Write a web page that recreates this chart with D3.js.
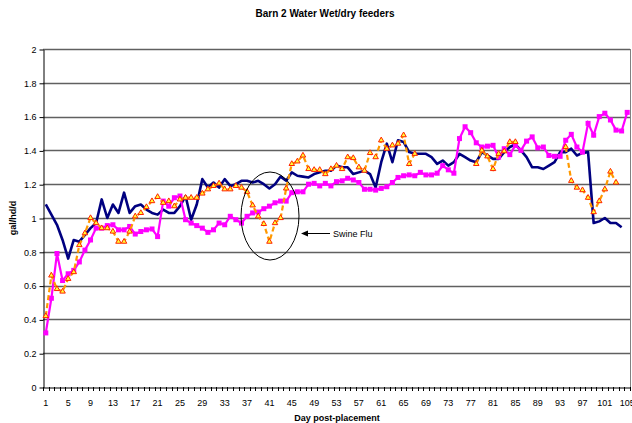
<!DOCTYPE html>
<html>
<head>
<meta charset="utf-8">
<script src="https://cdn.jsdelivr.net/npm/d3@7"></script>
<style>
body { margin: 0; background: white; }
text { font-family: "Liberation Sans", Arial, sans-serif; }
</style>
</head>
<body>
<div id="viz-container"></div>
<script>
let svgWidth = 632;
let svgHeight = 423;

// day post-placement 1..105
let days = d3.range(1, 106);

// navy line
let navySeries = [1.08,1.02,0.96,0.87,0.76,0.87,0.86,0.90,0.94,0.97,
 1.11,1.00,1.08,1.03,1.15,1.03,1.07,1.08,1.05,1.03,
 1.02,1.05,1.03,1.03,1.07,1.13,0.99,1.08,1.23,1.18,
 1.21,1.18,1.23,1.19,1.20,1.22,1.22,1.21,1.22,1.20,
 1.175,1.20,1.245,1.22,1.27,1.25,1.245,1.24,1.26,1.27,
 1.28,1.28,1.31,1.30,1.30,1.26,1.27,1.28,1.26,1.18,
 1.33,1.44,1.33,1.46,1.45,1.39,1.38,1.38,1.38,1.36,
 1.32,1.34,1.31,1.33,1.38,1.36,1.34,1.33,1.39,1.37,
 1.35,1.35,1.39,1.42,1.435,1.40,1.36,1.30,1.30,1.29,
 1.31,1.33,1.39,1.39,1.41,1.37,1.385,1.39,0.97,0.98,
 1.00,0.97,0.97,0.945,null];

// magenta squares
let pinkSeries = [0.32,0.525,0.79,0.63,0.67,0.69,0.74,0.81,0.87,0.94,
 0.94,0.955,0.96,0.93,0.93,0.95,0.905,0.92,0.93,0.935,
 0.89,1.10,1.07,1.12,1.13,0.99,0.97,0.955,0.94,0.915,
 0.93,0.97,0.96,1.01,0.99,0.97,1.01,1.03,1.035,1.055,
 1.07,1.09,1.10,1.10,1.15,1.155,1.155,1.20,1.205,1.19,
 1.205,1.19,1.215,1.22,1.235,1.225,1.21,1.17,1.17,1.165,
 1.175,1.185,1.21,1.24,1.25,1.255,1.25,1.27,1.255,1.255,
 1.265,1.31,1.285,1.265,1.47,1.54,1.505,1.445,1.42,1.425,
 1.43,1.36,1.41,1.375,1.43,1.40,1.455,1.48,1.415,1.42,
 1.37,1.365,1.365,1.46,1.495,1.42,1.39,1.56,1.49,1.60,
 1.62,1.58,1.52,1.515,1.625];

// orange triangles, gaps where no reading
let orangeSeries = [0.42,0.66,0.58,0.565,0.64,0.68,0.84,0.91,1.00,0.97,
 0.94,0.94,0.92,0.86,0.86,0.92,1.01,1.03,1.065,1.10,
 1.125,1.09,1.10,1.07,1.11,1.12,1.12,1.12,1.145,1.17,
 1.19,1.205,1.17,1.17,1.19,1.18,1.155,1.075,1.01,0.965,
 0.86,0.97,1.00,1.175,1.32,1.335,1.37,1.29,1.285,1.285,
 1.26,1.29,1.31,1.29,1.36,1.355,1.30,1.28,1.385,1.36,
 1.46,1.41,1.43,1.44,1.49,1.32,1.38,null,null,null,
 null,null,null,null,null,null,null,1.32,1.40,1.365,
 1.29,1.38,1.395,1.45,1.45,null,null,null,null,null,
 null,null,null,1.42,1.22,1.18,1.165,1.12,1.035,1.10,
 1.17,1.275,1.21,null,null];

let yTicks = [0,0.2,0.4,0.6,0.8,1,1.2,1.4,1.6,1.8,2];
let xLabelDays = days.filter(d => (d - 1) % 4 == 0);

let plotLeft = 43, plotRight = 630, plotTop = 49, plotBottom = 387;

let viz = d3.select("#viz-container")
  .append("svg")
    .attr("width", svgWidth)
    .attr("height", svgHeight)
    .style("background-color", "white");

let x = d3.scaleBand().domain(days).range([plotLeft, plotRight]).padding(0);
let y = d3.scaleLinear().domain([0, 2]).range([plotBottom, plotTop]);
let cx = d => x(d) + x.bandwidth() / 2;

// gridlines
viz.selectAll(".grid").data(yTicks.slice(1)).enter()
  .append("line")
    .attr("class", "grid")
    .attr("x1", plotLeft).attr("x2", plotRight)
    .attr("y1", d => Math.round(y(d)) + 0.5)
    .attr("y2", d => Math.round(y(d)) + 0.5)
    .attr("stroke", "#606060")
    .attr("stroke-width", 1.3);

// right border
viz.append("line")
  .attr("x1", plotRight + 0.5).attr("x2", plotRight + 0.5)
  .attr("y1", plotTop).attr("y2", plotBottom)
  .attr("stroke", "#808080");

// y axis
let yAxis = viz.append("g")
  .attr("transform", "translate(" + (plotLeft + 0.5) + ",0.5)")
  .call(d3.axisLeft(y).tickValues(yTicks).tickSize(4).tickSizeOuter(0).tickPadding(3)
    .tickFormat(d3.format("~g")));
yAxis.selectAll("text").attr("font-size", 9).attr("fill", "#000").attr("font-family", "Liberation Sans, Arial");
yAxis.selectAll("line, path").attr("stroke", "#000");

// x axis: ticks on category boundaries, labels every 4th day
let xAxis = viz.append("g")
  .attr("transform", "translate(0," + (plotBottom + 0.5) + ")")
  .call(d3.axisBottom(x).tickValues(xLabelDays).tickSize(0).tickPadding(12));
xAxis.selectAll("text").attr("font-size", 9).attr("fill", "#000").attr("font-family", "Liberation Sans, Arial");
xAxis.select("path").attr("stroke", "#000");

let boundaries = days.map(d => x(d)).concat([plotRight]);
viz.selectAll(".xtick").data(boundaries).enter()
  .append("line")
    .attr("class", "xtick")
    .attr("x1", d => Math.round(d) + 0.5).attr("x2", d => Math.round(d) + 0.5)
    .attr("y1", plotBottom).attr("y2", plotBottom + 4)
    .attr("stroke", "#000");

// navy line
let seriesLine = d3.line()
  .defined(d => d[1] != null)
  .x(d => cx(d[0])).y(d => y(d[1]));
viz.append("path")
  .datum(days.map((d, i) => [d, navySeries[i]]))
  .attr("d", seriesLine)
  .attr("fill", "none")
  .attr("stroke", "#000080")
  .attr("stroke-width", 2.6)
  .attr("stroke-linejoin", "round");

// magenta line + squares
let pinkData = days.map((d, i) => [d, pinkSeries[i]]);
viz.append("path")
  .datum(pinkData)
  .attr("d", seriesLine)
  .attr("fill", "none")
  .attr("stroke", "#FF00FF")
  .attr("stroke-width", 2.2);
viz.selectAll(".pinkPt").data(pinkData.filter(d => d[1] != null)).enter()
  .append("rect")
    .attr("class", "pinkPt")
    .attr("x", d => cx(d[0]) - 2.5)
    .attr("y", d => y(d[1]) - 2.5)
    .attr("width", 5).attr("height", 5)
    .attr("fill", "#FF00FF");

// orange dashed + triangles
let orangeData = days.map((d, i) => [d, orangeSeries[i]]);
viz.append("path")
  .datum(orangeData)
  .attr("d", seriesLine)
  .attr("fill", "none")
  .attr("stroke", "#FF9900")
  .attr("stroke-width", 2.2)
  .attr("stroke-dasharray", "5,3");
let tri = d3.symbol().type(d3.symbolTriangle).size(13);
viz.selectAll(".orangePt").data(orangeData.filter(d => d[1] != null)).enter()
  .append("path")
    .attr("class", "orangePt")
    .attr("d", tri)
    .attr("transform", d => "translate(" + cx(d[0]) + "," + y(d[1]) + ")")
    .attr("fill", "#FFFF33")
    .attr("stroke", "#FF2200")
    .attr("stroke-width", 1);

// swine flu annotation
viz.append("ellipse")
  .attr("cx", 270).attr("cy", 216)
  .attr("rx", 29).attr("ry", 44)
  .attr("fill", "none")
  .attr("stroke", "#000")
  .attr("stroke-width", 1);
viz.append("line")
  .attr("x1", 330).attr("x2", 306)
  .attr("y1", 233.5).attr("y2", 233.5)
  .attr("stroke", "#000");
viz.append("path")
  .attr("d", "M301,233.5 L308,230.5 L308,236.5 Z")
  .attr("fill", "#000");
viz.append("text")
  .text("Swine Flu")
  .attr("x", 333).attr("y", 237)
  .attr("font-size", 9);

// titles
viz.append("text")
  .text("Barn 2 Water Wet/dry feeders")
  .attr("x", 325).attr("y", 17)
  .attr("text-anchor", "middle")
  .attr("font-size", 10).attr("font-weight", "bold");
viz.append("text")
  .text("Day post-placement")
  .attr("x", 337).attr("y", 421)
  .attr("text-anchor", "middle")
  .attr("font-size", 9).attr("font-weight", "bold");
viz.append("text")
  .text("gal/hd/d")
  .attr("transform", "translate(16,218) rotate(-90)")
  .attr("text-anchor", "middle")
  .attr("font-size", 9).attr("font-weight", "bold");
</script>
</body>
</html>
